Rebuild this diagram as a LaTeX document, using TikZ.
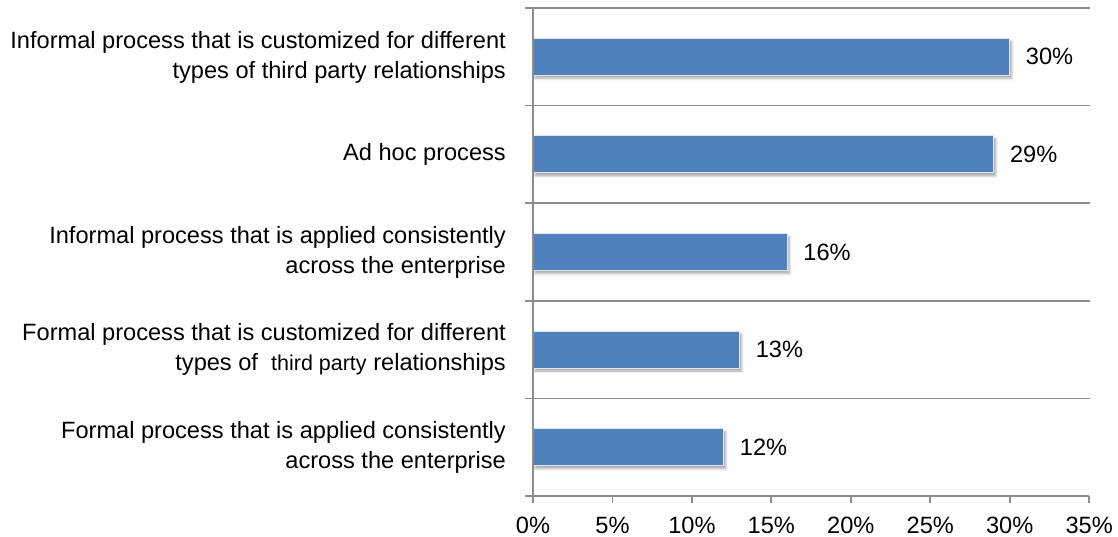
\documentclass[tikz,border=0pt]{standalone}
\usepackage{fontspec}
\setmainfont{Liberation Sans}
\usetikzlibrary{shadows.blur}
\definecolor{barblue}{HTML}{4F81BD}
\definecolor{gridgray}{HTML}{8C8C8C}
\begin{document}
\begin{tikzpicture}[x=1pt,y=-1pt,
  gridline/.style={draw=gridgray,line width=1.8pt},
  bar/.style={fill=barblue,draw=white!80!barblue,line width=0.8pt,
    blur shadow={shadow xshift=2pt,shadow yshift=-3pt,shadow blur radius=2.5pt,shadow opacity=35}},
  catlabel/.style={anchor=east,align=right,inner sep=0pt,font=\fontsize{23.6}{30}\selectfont},
  vallabel/.style={anchor=west,inner sep=0pt,font=\fontsize{23.6}{28}\selectfont},
  ticklabel/.style={anchor=center,inner sep=0pt,font=\fontsize{23.6}{28}\selectfont}]
\useasboundingbox (0,0) rectangle (1118,537);
% horizontal grid lines with left ticks
\foreach \y in {8,105.6,203.2,300.8,398.4}
  \draw[gridline] (525,\y) -- (1090,\y);
% axes
\coordinate (origin) at (533,496);
\coordinate (top) at (533,8);
\coordinate (xend) at (1089.3,496);
\draw[gridline] (525,496) -- (xend);
\draw[gridline] (top) -- (origin);
% bottom ticks and labels
\foreach \v [count=\i from 0] in {0,5,10,15,20,25,30,35}{
  \draw[gridline] (533+\v*15.89,496) -- (533+\v*15.89,503);
  \node[ticklabel] (t\i) at (533+\v*15.89,525) {\v\%};
}
% bars
\foreach \v/\c/\n in {30/56.8/a,29/154.4/b,16/252/c,13/349.6/d,12/447.2/e}{
  \draw[bar] (533,\c-18.5) rectangle (533+\v*15.89,\c+18.5);
  \node[vallabel] (v\n) at (533+\v*15.89+16,\c) {\v\%};
}
\draw[gridline] (top) -- (origin);
% category labels
\node[catlabel] (ca) at (506,57.5) {Informal process that is customized for different\\types of third party relationships};
\node[catlabel] (cb) at (506,154.4) {Ad hoc process};
\node[catlabel] (cc) at (506,252) {Informal process that is applied consistently\\across the enterprise};
\node[catlabel] (cd) at (506,349.6) {Formal process that is customized for different\\types of\ \ {\fontsize{21.5}{30}\selectfont third party} relationships};
\node[catlabel] (ce) at (506,447.2) {Formal process that is applied consistently\\across the enterprise};
\end{tikzpicture}
\end{document}
